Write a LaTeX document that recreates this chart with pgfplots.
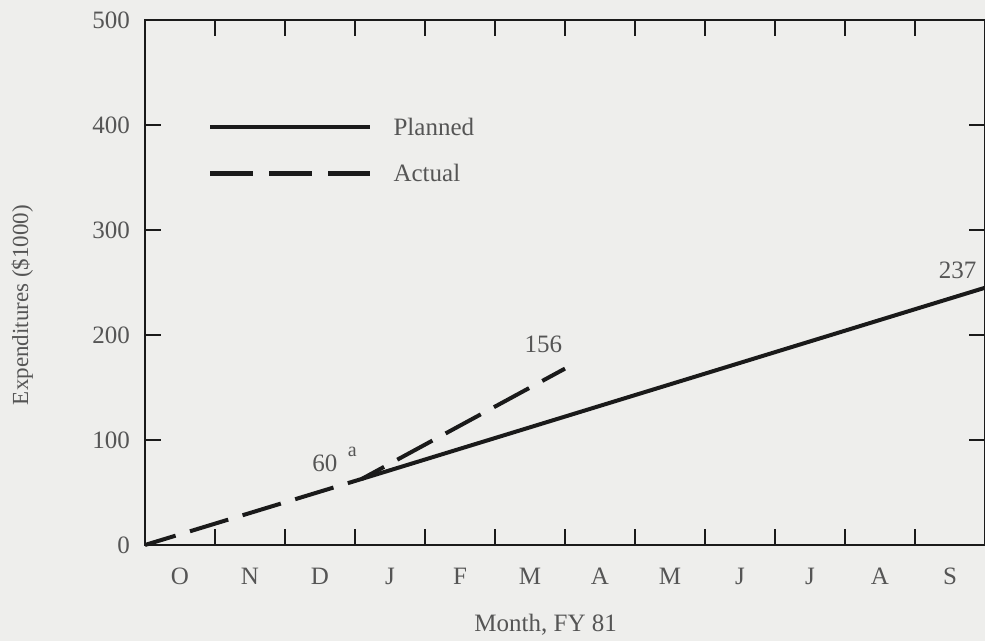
\documentclass[border=0pt]{standalone}
\usepackage{pgfplots}
\pgfplotsset{compat=1.18}
\usepackage{fontspec}
\setmainfont{Liberation Serif}
\definecolor{txt}{HTML}{555555}
\definecolor{ink}{HTML}{1A1A1A}
\definecolor{bg}{HTML}{EEEEEC}
\begin{document}
\begin{tikzpicture}
\fill[bg] (-72.5pt,-48pt) rectangle (420pt,272.5pt);
\path[use as bounding box] (-72.5pt,-48pt) rectangle (420pt,272.5pt);
\begin{axis}[
  scale only axis, width=420pt, height=262.5pt,
  xmin=0, xmax=12, ymin=0, ymax=500,
  axis line style={ink, line width=1.4pt},
  xtick={1,...,11},
  xticklabels={},
  extra x ticks={0.5,1.5,...,11.5},
  extra x tick labels={O,N,D,J,F,M,A,M,J,J,A,S},
  extra x tick style={major tick length=0pt, tick style={draw=none}},
  ytick={0,100,...,500},
  major tick length=8pt,
  tick style={ink, line width=1pt},
  tick align=inside,
  xticklabel style={yshift=-8pt},
  yticklabel style={xshift=-4pt},
  tick label style={font=\fontsize{12.5}{14}\selectfont, text=txt},
  /pgf/number format/assume math mode=true,
  xlabel={Month, FY 81},
  ylabel={Expenditures (\$1000)},
  every axis x label/.style={at={(axis description cs:0.477,-0.152)}, anchor=center, font=\fontsize{12.5}{14}\selectfont, text=txt},
  every axis y label/.style={at={(axis description cs:-0.146,0.457)}, anchor=center, rotate=90, font=\fontsize{11.5}{14}\selectfont, text=txt},
  clip=false,
]
\addplot[ink, line width=2pt, dash pattern=on 20pt off 7.5pt, dash phase=4pt] coordinates {(0,0) (3.1,63) (6.0,168)};
\addplot[ink, line width=2pt] coordinates {(3.1,63) (12,245)};
% legend
\draw[ink, line width=2.4pt] (axis cs:0.93,398) -- (axis cs:3.21,398);
\draw[ink, line width=2.4pt, dash pattern=on 21.5pt off 8pt] (axis cs:0.93,354) -- (axis cs:3.21,354);
\node[anchor=west, text=txt, font=\fontsize{12.5}{14}\selectfont] at (axis cs:3.45,398) {Planned};
\node[anchor=west, text=txt, font=\fontsize{12.5}{14}\selectfont] at (axis cs:3.45,354) {Actual};
% annotations
\node[text=txt, font=\fontsize{12.5}{14}\selectfont] at (axis cs:2.57,78) {60};
\node[text=txt, font=\fontsize{10}{12}\selectfont] at (axis cs:2.96,89) {a};
\node[text=txt, font=\fontsize{12.5}{14}\selectfont] at (axis cs:5.69,191) {156};
\node[text=txt, font=\fontsize{12.5}{14}\selectfont] at (axis cs:11.61,262) {237};
\end{axis}
\end{tikzpicture}
\end{document}
